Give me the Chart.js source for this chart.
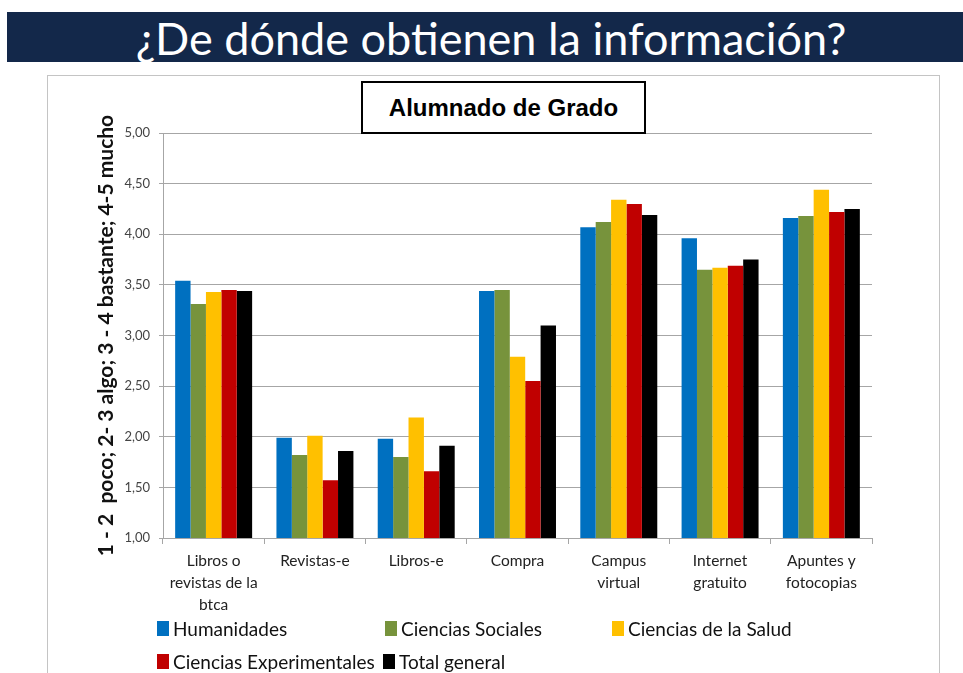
<!DOCTYPE html>
<html><head><meta charset="utf-8">
<script src="https://cdn.jsdelivr.net/npm/chart.js@4"></script>
<style>
body{margin:0;width:963px;height:673px;overflow:hidden;background:#fff;font-family:Lato,'Open Sans',sans-serif;position:relative}
#bar{position:absolute;left:7px;top:12px;width:956px;height:50px;background:#13284A;color:#fff;font-size:45px;text-align:center;line-height:50px;box-sizing:border-box;padding-left:12px;padding-top:1px}
#frame{position:absolute;left:47px;top:75px;width:891px;height:640px;border:1px solid #C4C4C4;}
#wrap{position:absolute;left:47px;top:76px;width:892px;height:597px}
#box{position:absolute;left:361px;top:81px;width:281px;height:49px;border:2px solid #000;background:#fff;font:bold 24px 'Liberation Sans',Arial,sans-serif;display:flex;align-items:center;justify-content:center;color:#000}
.lg{position:absolute;font-size:19px;color:#111;display:flex;align-items:center;white-space:nowrap;height:16px}
.sw{width:12px;height:15px;margin-right:4px}
</style>
</head><body>
<div id="bar">¿De dónde obtienen la información?</div>
<div id="frame"></div>
<div id="wrap"><canvas id="c" width="892" height="597"></canvas></div>
<div id="box">Alumnado de Grado</div>
<div id="legend"></div>
<script>
const categories = [["Libros o","revistas de la","btca"],"Revistas-e","Libros-e","Compra",["Campus","virtual"],["Internet","gratuito"],["Apuntes y","fotocopias"]];
const seriesNames = ["Humanidades","Ciencias Sociales","Ciencias de la Salud","Ciencias Experimentales","Total general"];
const humanidades = [3.54,1.99,1.98,3.44,4.07,3.96,4.16];
const cienciasSociales = [3.31,1.82,1.80,3.45,4.12,3.65,4.18];
const cienciasSalud = [3.43,2.01,2.19,2.79,4.34,3.67,4.44];
const cienciasExperimentales = [3.45,1.57,1.66,2.55,4.30,3.69,4.22];
const totalGeneral = [3.44,1.86,1.91,3.10,4.19,3.75,4.25];
const yTickLabels = ["1,00","1,50","2,00","2,50","3,00","3,50","4,00","4,50","5,00"];
const colors = ["#0070C0","#77933C","#FFC000","#C00000","#000000"];
const seriesValues = [humanidades,cienciasSociales,cienciasSalud,cienciasExperimentales,totalGeneral];

const datasets = seriesNames.map((n,i)=>({label:n,data:seriesValues[i],backgroundColor:colors[i],borderWidth:0,categoryPercentage:0.76,barPercentage:1.0}));

new Chart(document.getElementById('c'),{
  type:'bar',
  data:{labels:categories,datasets},
  options:{
    responsive:false,animation:false,
    layout:{padding:{left:45,top:57,right:67,bottom:0}},
    plugins:{legend:{display:false},tooltip:{enabled:false}},
    scales:{
      x:{
        grid:{drawOnChartArea:false,drawTicks:true,tickLength:6,color:'#A6A6A6',offset:true},
        border:{color:'#A6A6A6'},
        ticks:{font:{family:'Lato',size:15.5,lineHeight:1.42},color:'#222',padding:6,maxRotation:0,autoSkip:false},
        afterFit:s=>{s.height=135;}
      },
      y:{
        min:1,max:5,
        grid:{color:'#A6A6A6',tickLength:4},
        border:{color:'#A6A6A6'},
        ticks:{stepSize:0.5,font:{family:'Lato',size:13},color:'#444',padding:9,
          callback:(v,i)=>yTickLabels[i]},
        title:{display:true,text:'1 - 2  poco; 2- 3 algo; 3 - 4 bastante; 4-5 mucho',font:{family:'Lato',size:21,weight:'bold'},color:'#111',padding:{top:2,bottom:2}},
        afterFit:s=>{s.width=71;}
      }
    }
  }
});

const legendPos = [[157,620],[385,620],[612,620],[157,653],[383,653]];
const lg = document.getElementById('legend');
seriesNames.forEach((n,i)=>{
  const d=document.createElement('div');d.className='lg';
  d.style.left=legendPos[i][0]+'px';d.style.top=legendPos[i][1]+'px';
  d.innerHTML='<span class="sw" style="background:'+colors[i]+'"></span><span>'+n+'</span>';
  lg.appendChild(d);
});
</script>
</body></html>
